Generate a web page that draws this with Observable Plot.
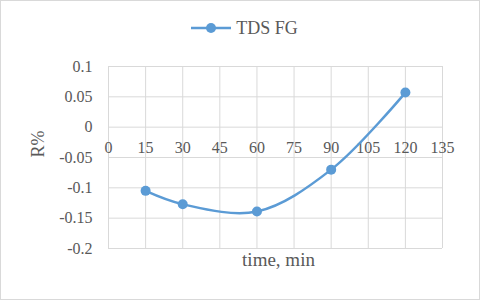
<!DOCTYPE html>
<html><head><meta charset="utf-8">
<script src="https://cdn.jsdelivr.net/npm/d3@7"></script>
<script src="https://cdn.jsdelivr.net/npm/@observablehq/plot@0.6"></script>
<style>
body{margin:0;background:#fff;font-family:'Liberation Serif',serif;}
#wrap{position:relative;width:480px;height:300px;overflow:hidden;font-family:'Liberation Serif',serif;color:#595959;}
#frame{position:absolute;left:0;top:0;width:480px;height:300px;box-sizing:border-box;border:1px solid #d9d9d9;pointer-events:none;}
#legend{height:50px;display:flex;align-items:center;justify-content:center;gap:4px;font-size:18px;padding-top:6px;box-sizing:border-box;padding-left:8px;font-family:'Liberation Serif',serif;}
#chart svg, #chart svg text{font-family:'Liberation Serif',serif !important;}
</style></head>
<body><div id="wrap"><div id="legend"></div><div id="chart"></div><div id="frame"></div></div>
<script>
const seriesName = "TDS FG";
const times = [15, 30, 60, 90, 120];
const rValues = [-0.105, -0.127, -0.139, -0.070, 0.057];
const xTicks = [0, 15, 30, 45, 60, 75, 90, 105, 120, 135];
const yTicks = [0.1, 0.05, 0, -0.05, -0.1, -0.15, -0.2];
const xTitle = "time, min";
const yTitle = "R%";

const color = "#5b9bd5";
const data = times.map((t, i) => ({t, r: rValues[i]}));
const fmt = d => String(+d.toFixed(2));

document.getElementById("legend").innerHTML =
  `<svg width="42" height="14"><line x1="1" y1="7" x2="41" y2="7" stroke="${color}" stroke-width="2.5"/><circle cx="21" cy="7" r="5" fill="${color}"/></svg><span>${seriesName}</span>`;

const chart = Plot.plot({
  width: 480, height: 250,
  marginLeft: 108, marginRight: 38, marginTop: 16, marginBottom: 52,
  style: {fontFamily: "'Liberation Serif', serif", fontSize: "16px", color: "#595959", background: "transparent"},
  x: {domain: [0, 135], axis: null},
  y: {domain: [-0.2, 0.1], axis: null},
  marks: [
    Plot.gridX(xTicks, {stroke: "#d9d9d9", strokeOpacity: 1, strokeWidth: 1}),
    Plot.gridY(yTicks, {stroke: "#d9d9d9", strokeOpacity: 1, strokeWidth: 1}),
    Plot.axisY(yTicks, {tickSize: 0, tickPadding: 16, tickFormat: fmt, fill: "#595959", fontSize: 16, label: null}),
    Plot.text(xTicks, {x: d => d, y: () => 0, dy: 21, text: d => String(d), fill: "#595959", fontSize: 16}),
    Plot.line(data, {x: "t", y: "r", curve: "catmull-rom", stroke: color, strokeWidth: 2.5}),
    Plot.dot(data, {x: "t", y: "r", r: 5, fill: color}),
    Plot.text([xTitle], {frameAnchor: "bottom", dy: 17, dx: 3, fill: "#595959", fontSize: 19}),
    Plot.text([yTitle], {frameAnchor: "left", dx: -70, rotate: -90, fill: "#595959", fontSize: 18})
  ]
});
document.getElementById("chart").appendChild(chart);
</script></body></html>
